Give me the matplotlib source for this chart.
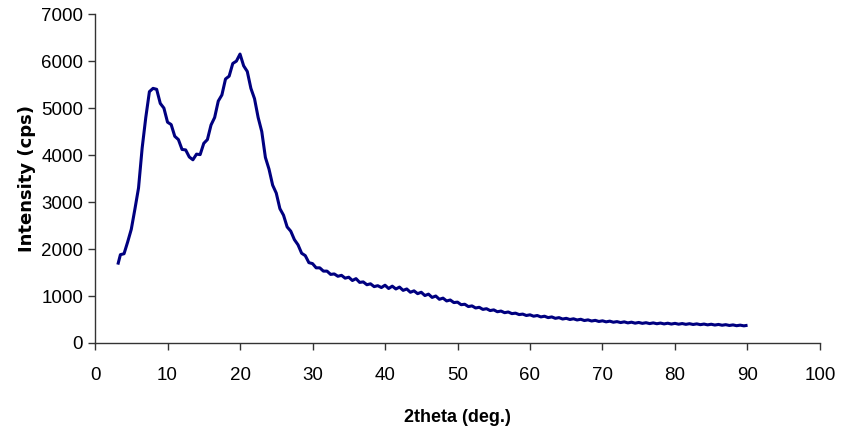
import matplotlib
matplotlib.use("Agg")
import matplotlib.pyplot as plt

# 2theta (deg.) and intensity (cps)
two_theta = [3.2, 3.5, 4.0, 4.5, 5.0, 5.5, 6.0, 6.5, 7.0, 7.5, 8.0, 8.5, 9.0, 9.5,
             10.0, 10.5, 11.0, 11.5, 12.0, 12.5, 13.0, 13.5, 14.0, 14.5, 15.0, 15.5,
             16.0, 16.5, 17.0, 17.5, 18.0, 18.5, 19.0, 19.5, 20.0, 20.5, 21.0, 21.5,
             22.0, 22.5, 23.0, 23.5, 24.0, 24.5, 25.0, 25.5, 26.0, 26.5, 27.0, 27.5,
             28.0, 28.5, 29.0, 29.5, 30.0, 30.5, 31.0, 31.5, 32.0, 32.5, 33.0, 33.5,
             34.0, 34.5, 35.0, 35.5, 36.0, 36.5, 37.0, 37.5, 38.0, 38.5, 39.0, 39.5,
             40.0, 40.5, 41.0, 41.5, 42.0, 42.5, 43.0, 43.5, 44.0, 44.5, 45.0, 45.5,
             46.0, 46.5, 47.0, 47.5, 48.0, 48.5, 49.0, 49.5, 50.0, 50.5, 51.0, 51.5,
             52.0, 52.5, 53.0, 53.5, 54.0, 54.5, 55.0, 55.5, 56.0, 56.5, 57.0, 57.5,
             58.0, 58.5, 59.0, 59.5, 60.0, 60.5, 61.0, 61.5, 62.0, 62.5, 63.0, 63.5,
             64.0, 64.5, 65.0, 65.5, 66.0, 66.5, 67.0, 67.5, 68.0, 68.5, 69.0, 69.5,
             70.0, 70.5, 71.0, 71.5, 72.0, 72.5, 73.0, 73.5, 74.0, 74.5, 75.0, 75.5,
             76.0, 76.5, 77.0, 77.5, 78.0, 78.5, 79.0, 79.5, 80.0, 80.5, 81.0, 81.5,
             82.0, 82.5, 83.0, 83.5, 84.0, 84.5, 85.0, 85.5, 86.0, 86.5, 87.0, 87.5,
             88.0, 88.5, 89.0, 89.5, 89.8]
intensity = [1700, 1880, 1900, 2150, 2420, 2850, 3300, 4150, 4800, 5350, 5420, 5400, 5100, 5000,
             4700, 4650, 4400, 4330, 4120, 4110, 3960, 3900, 4020, 4010, 4250, 4330,
             4640, 4800, 5150, 5280, 5620, 5680, 5950, 6000, 6150, 5900, 5780, 5420,
             5200, 4800, 4500, 3950, 3700, 3360, 3190, 2860, 2720, 2470, 2380, 2200,
             2090, 1910, 1860, 1710, 1690, 1600, 1600, 1530, 1530, 1460, 1470, 1420,
             1440, 1380, 1400, 1330, 1370, 1290, 1300, 1240, 1260, 1200, 1220, 1180,
             1230, 1160, 1210, 1150, 1190, 1120, 1150, 1080, 1110, 1050, 1080, 1010,
             1040, 970, 1000, 930, 955, 895, 915, 860, 870, 815, 825, 775,
             790, 745, 760, 715, 730, 690, 705, 665, 680, 645, 660, 625,
             635, 605, 615, 585, 600, 570, 585, 555, 570, 540, 555, 525,
             540, 510, 525, 500, 515, 490, 505, 478, 492, 468, 482, 458,
             472, 450, 465, 442, 455, 435, 450, 428, 443, 422, 437, 418,
             432, 413, 428, 410, 424, 406, 421, 403, 418, 400, 414, 397,
             411, 394, 407, 390, 403, 386, 399, 382, 395, 378, 390, 373,
             385, 368, 380, 365, 372]

x_ticks = [0, 10, 20, 30, 40, 50, 60, 70, 80, 90, 100]
y_ticks = [0, 1000, 2000, 3000, 4000, 5000, 6000, 7000]

plt.rcParams['font.family'] = ['Liberation Sans', 'DejaVu Sans']

fig = plt.figure(figsize=(8.41, 4.42), dpi=100)
ax = fig.add_axes([0.113, 0.224, 0.862, 0.744])

ax.plot(two_theta, intensity, color='#000080', linewidth=2.2)

ax.set_xlim(0, 100)
ax.set_ylim(0, 7000)
ax.set_xticks(x_ticks)
ax.set_yticks(y_ticks)
ax.spines['top'].set_visible(False)
ax.spines['right'].set_visible(False)
for s in ['left', 'bottom']:
    ax.spines[s].set_linewidth(1.0)
    ax.spines[s].set_color('#333333')
ax.tick_params(direction='out', length=5, width=1, color='#333333', labelsize=13.5)
ax.tick_params(axis='x', pad=12)

ax.set_xlabel('2theta (deg.)', fontsize=13, fontweight='bold', labelpad=18)
ax.set_ylabel('Intensity (cps)', fontsize=13, fontweight='bold', labelpad=4,
              family=['DejaVu Sans'])

fig.savefig('out.png', dpi=100)
